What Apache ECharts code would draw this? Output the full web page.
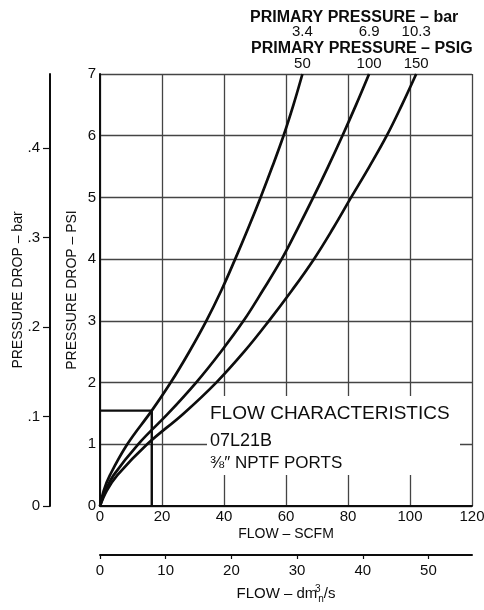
<!DOCTYPE html>
<html>
<head>
<meta charset="utf-8">
<script src="https://cdn.jsdelivr.net/npm/echarts@6/dist/echarts.min.js"></script>
<style>
  html, body { margin: 0; padding: 0; background: #fff; }
  #chart { width: 484px; height: 610px; }
</style>
</head>
<body>
<div id="chart"></div>
<script>
// Axis ticks
const flowTicks = [0, 20, 40, 60, 80, 100, 120];          // SCFM
const psiTicks = [0, 1, 2, 3, 4, 5, 6, 7];                 // PSI
const barTicks = [0, 0.1, 0.2, 0.3, 0.4];                  // bar
const dmTicks = [0, 10, 20, 30, 40, 50];                   // dm³n/s

// Unit conversions for the secondary axes
const PSI_PER_BAR = 14.5038;
const DM3S_PER_SCFM = 0.4719;

// Primary pressure levels, one per curve
const psigLevels = ['50', '100', '150'];
const barLevels = ['3.4', '6.9', '10.3'];

// Pressure drop curves: [flow SCFM, pressure drop PSI]
const curve50 = [[0, 0], [1.2, 0.25], [3.2, 0.5], [8.8, 1.0], [16.7, 1.545], [22.8, 2], [28.8, 2.5], [34.3, 3], [39.2, 3.5], [43.6, 4], [47.8, 4.5], [51.8, 5], [55.6, 5.5], [59.2, 6], [62.4, 6.5], [65.3, 7]];
const curve100 = [[0, 0], [1.8, 0.25], [4.4, 0.5], [12.3, 1.0], [22.0, 1.5], [31.0, 2], [39.0, 2.5], [46.3, 3], [52.6, 3.5], [58.6, 4], [63.8, 4.5], [68.8, 5], [73.6, 5.5], [78.2, 6], [82.6, 6.5], [86.8, 7]];
const curve150 = [[0, 0], [2.2, 0.25], [5.6, 0.5], [15.2, 1.0], [27.0, 1.5], [37.5, 2], [46.5, 2.5], [54.5, 3], [62.0, 3.5], [69.0, 4], [75.2, 4.5], [81.0, 5], [86.9, 5.5], [92.5, 6], [97.4, 6.5], [102, 7]];

// Example reading on the 50 PSIG curve
const examplePoint = [16.7, 1.545];

const FONT = '"Liberation Sans", Arial, Helvetica, sans-serif';
const INK = '#0d0d0d';
const GRID = '#444';

const chart = echarts.init(document.getElementById('chart'), null, { renderer: 'canvas' });

function curveSeries(name, data) {
  return {
    name: name,
    type: 'line',
    data: data,
    xAxisIndex: 0,
    yAxisIndex: 0,
    smooth: 0.4,
    symbol: 'none',
    lineStyle: { color: INK, width: 2.7 },
    z: 5,
    silent: true
  };
}

const option = {
  animation: false,
  backgroundColor: '#fff',
  textStyle: { fontFamily: FONT, color: INK },
  grid: { left: 100, right: 12, top: 74, bottom: 104, containLabel: false, outerBoundsMode: 'none' },
  xAxis: [
    {
      type: 'value', min: 0, max: 120, interval: 20, position: 'bottom',
      axisLine: { show: true, onZero: false, lineStyle: { color: INK, width: 2 } },
      axisTick: { show: false },
      axisLabel: { fontSize: 15, color: INK, margin: 3, fontFamily: FONT,
                   customValues: flowTicks },
      splitLine: { show: true, lineStyle: { color: GRID, width: 1.3 } },
      name: 'FLOW – SCFM', nameLocation: 'middle', nameGap: 21, nameMoveOverlap: false,
      nameTextStyle: { fontSize: 14, color: INK, fontFamily: FONT }
    },
    {
      type: 'value', min: 0, max: 120 * DM3S_PER_SCFM, position: 'bottom', offset: 49,
      axisLine: { show: true, onZero: false, lineStyle: { color: INK, width: 2 } },
      axisTick: { show: true, length: 4, customValues: dmTicks, lineStyle: { color: INK, width: 1.2 } },
      axisLabel: { fontSize: 15, color: INK, margin: 8, fontFamily: FONT, customValues: dmTicks },
      splitLine: { show: false },
      name: 'FLOW – dm{sup|3}{sub|n}/s', nameLocation: 'middle', nameGap: 29, nameMoveOverlap: false,
      nameTextStyle: {
        fontSize: 15, color: INK, fontFamily: FONT, lineHeight: 20,
        rich: {
          sup: { fontSize: 10, fontFamily: FONT, color: INK, verticalAlign: 'top', width: 1, lineHeight: 12 },
          sub: { fontSize: 10, fontFamily: FONT, color: INK, verticalAlign: 'bottom', lineHeight: 12 }
        }
      }
    }
  ],
  yAxis: [
    {
      type: 'value', min: 0, max: 7, interval: 1, position: 'left',
      axisLine: { show: true, onZero: false, lineStyle: { color: INK, width: 2 } },
      axisTick: { show: false },
      axisLabel: { fontSize: 15, color: INK, margin: 4, fontFamily: FONT, customValues: psiTicks },
      splitLine: { show: true, lineStyle: { color: GRID, width: 1.3 } },
      name: 'PRESSURE DROP – PSI', nameLocation: 'middle', nameGap: 21, nameRotate: 90, nameMoveOverlap: false,
      nameTextStyle: { fontSize: 14, color: INK, fontFamily: FONT }
    },
    {
      type: 'value', min: 0, max: 7 / PSI_PER_BAR, position: 'left', offset: 50,
      axisLine: { show: true, onZero: false, lineStyle: { color: INK, width: 2 } },
      axisTick: { show: true, length: 7, customValues: barTicks, lineStyle: { color: INK, width: 1.2 } },
      axisLabel: {
        fontSize: 15, color: INK, margin: 10, fontFamily: FONT, customValues: barTicks,
        formatter: v => (v === 0 ? '0' : v.toFixed(1).replace(/^0/, ''))
      },
      splitLine: { show: false },
      name: 'PRESSURE DROP – bar', nameLocation: 'middle', nameGap: 25, nameRotate: 90, nameMoveOverlap: false,
      nameTextStyle: { fontSize: 14, color: INK, fontFamily: FONT }
    }
  ],
  series: [
    curveSeries('50', curve50),
    curveSeries('100', curve100),
    curveSeries('150', curve150),
    {
      name: 'example',
      type: 'line',
      xAxisIndex: 0, yAxisIndex: 0,
      data: [[0, examplePoint[1]], examplePoint, [examplePoint[0], 0]],
      symbol: 'none',
      lineStyle: { color: INK, width: 2.4 },
      z: 5,
      silent: true
    }
  ]
};

chart.setOption(option);

// Pressure level labels above each curve end, and the info panel
const curves = [curve50, curve100, curve150];
const graphics = [];
const plotTopY = chart.convertToPixel({ gridIndex: 0 }, [0, 7])[1];

graphics.push({
  type: 'text', left: 250, top: 10, z: 100,
  style: { text: 'PRIMARY PRESSURE – bar', font: 'bold 16px ' + FONT, fill: INK }
});
graphics.push({
  type: 'text', left: 251, top: 41, z: 100,
  style: { text: 'PRIMARY PRESSURE – PSIG', font: 'bold 16px ' + FONT, fill: INK }
});
curves.forEach((c, i) => {
  const end = c[c.length - 1];
  const px = chart.convertToPixel({ gridIndex: 0 }, end);
  graphics.push({
    type: 'text', x: px[0], y: plotTopY - 10, z: 100,
    style: { text: psigLevels[i], font: '15px ' + FONT, fill: INK, align: 'center', verticalAlign: 'middle' }
  });
  graphics.push({
    type: 'text', x: px[0], y: plotTopY - 42, z: 100,
    style: { text: barLevels[i], font: '15px ' + FONT, fill: INK, align: 'center', verticalAlign: 'middle' }
  });
});

// Info panel with a white backing over the grid
graphics.push({
  type: 'rect', shape: { x: 207, y: 396, width: 253, height: 79 }, z: 1,
  style: { fill: '#fff' }, silent: true
});
graphics.push({
  type: 'text', x: 210, y: 414, z: 100,
  style: { text: 'FLOW CHARACTERISTICS', font: '19px ' + FONT, fill: INK, verticalAlign: 'middle' }
});
graphics.push({
  type: 'text', x: 210, y: 441, z: 100,
  style: { text: '07L21B', font: '18px ' + FONT, fill: INK, verticalAlign: 'middle' }
});
graphics.push({
  type: 'text', x: 210, y: 463, z: 100,
  style: { text: '⅜″ NPTF PORTS', font: '17px ' + FONT, fill: INK, verticalAlign: 'middle' }
});

chart.setOption({ graphic: { elements: graphics } });
</script>
</body>
</html>
